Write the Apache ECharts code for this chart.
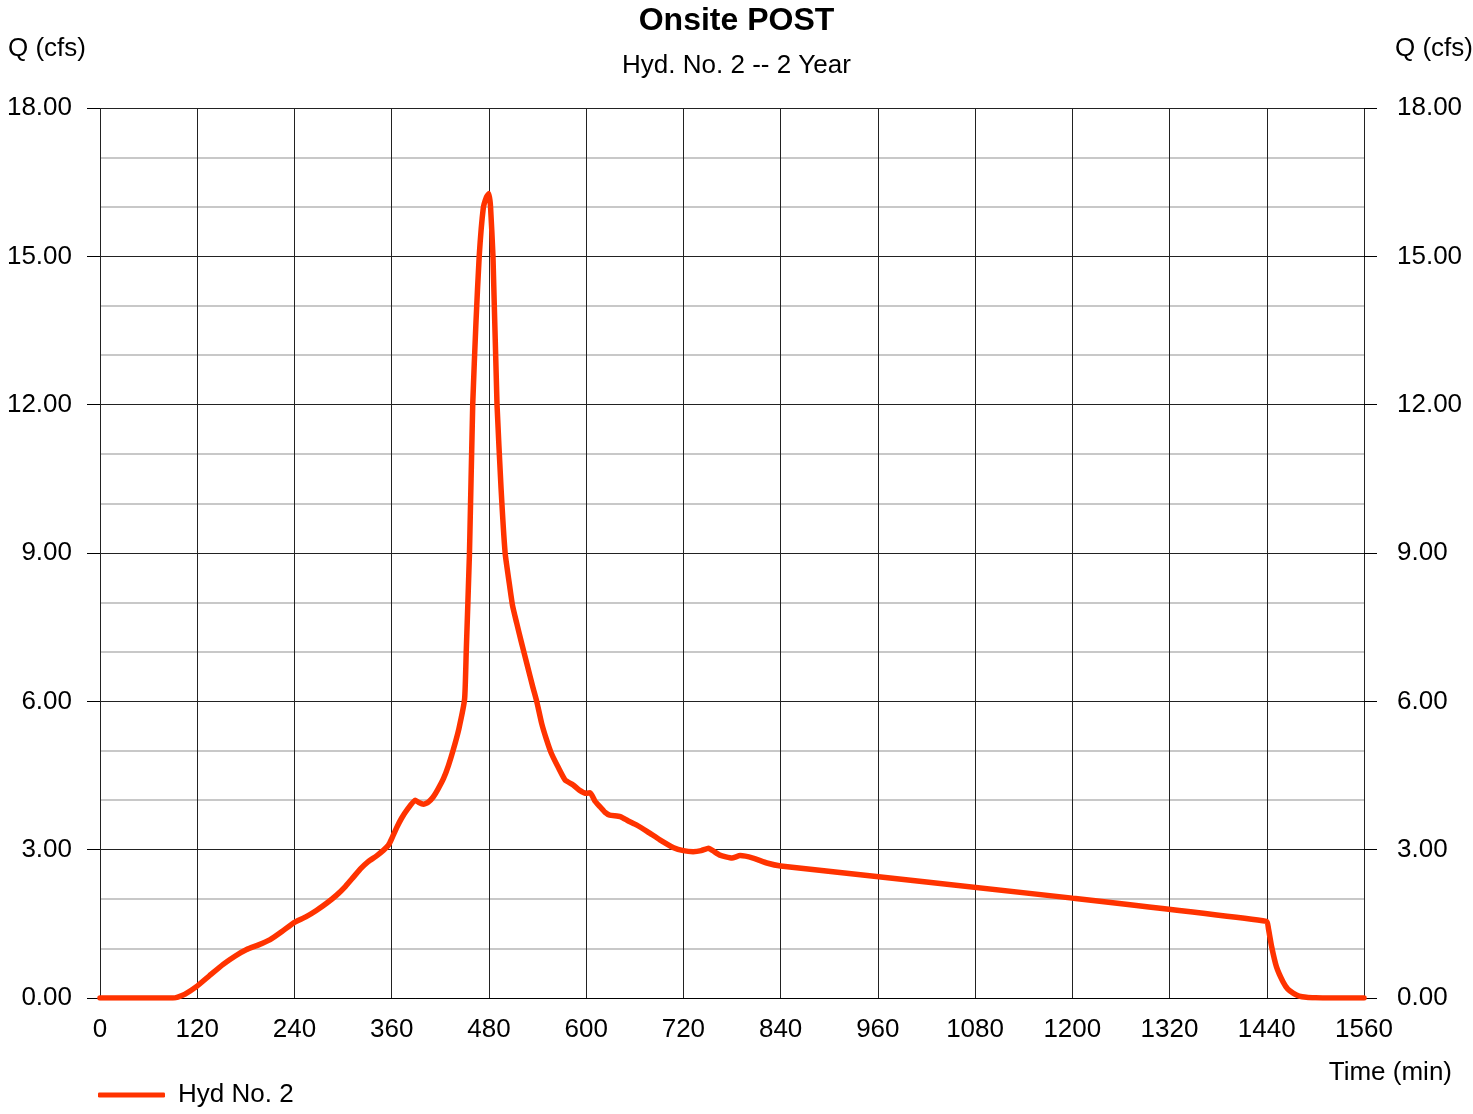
<!DOCTYPE html>
<html>
<head>
<meta charset="utf-8">
<script src="https://cdn.jsdelivr.net/npm/echarts@6/dist/echarts.min.js"></script>
<style>
  html, body { margin: 0; padding: 0; background: #fff; }
  #chart { width: 1473px; height: 1114px; }
</style>
</head>
<body>
<div id="chart"></div>
<script>
// hydrograph: time (min) and flow (cfs)
const times = [0, 90, 96, 105, 119, 135, 152, 167, 181, 195, 210, 225, 239, 254, 267, 280, 292, 303, 313, 322,
  331, 341, 350, 356, 360, 366, 372, 380, 389, 393, 399, 405, 411, 417, 424, 430, 436, 443, 450, 452,
  456, 460, 464, 468, 473, 477, 480, 482, 485, 490, 495, 500, 505, 509, 514, 520, 527, 534, 539, 545,
  551, 557, 566, 574, 584, 592, 600, 605, 611, 617, 623, 629, 642, 652, 662, 676, 691, 708, 720, 732,
  742, 751, 758, 765, 780, 790, 806, 823, 840, 1200, 1440, 1442, 1446, 1452, 1460, 1466, 1473, 1480, 1489, 1500,
  1509, 1560]
const flows = [0, 0, 0.02, 0.08, 0.23, 0.45, 0.68, 0.85, 0.98, 1.07, 1.18, 1.35, 1.52, 1.64, 1.77, 1.92, 2.08, 2.26, 2.45, 2.62,
  2.76, 2.87, 2.99, 3.09, 3.22, 3.44, 3.63, 3.83, 4.00, 3.96, 3.92, 3.96, 4.06, 4.22, 4.44, 4.70, 5.02, 5.45, 6.05, 7.0,
  9.0, 12.0, 13.66, 15.0, 15.97, 16.2, 16.27, 16.0, 15.0, 12.0, 10.3, 9.0, 8.4, 7.95, 7.6, 7.2, 6.75, 6.3, 6.0, 5.56,
  5.23, 4.95, 4.65, 4.41, 4.31, 4.2, 4.14, 4.15, 3.98, 3.87, 3.76, 3.70, 3.67, 3.58, 3.50, 3.36, 3.20, 3.04, 2.98, 2.96,
  2.98, 3.03, 2.96, 2.89, 2.83, 2.88, 2.83, 2.73, 2.67, 2.02, 1.55, 1.41, 1.04, 0.63, 0.33, 0.18, 0.095, 0.04, 0.014, 0.003,
  0, 0]
const seriesName = 'Hyd No. 2'

const font = 'Liberation Sans, Arial, sans-serif'
const red = '#ff3300'

const myChart = echarts.init(document.getElementById('chart'))

const yAxisBase = {
  type: 'value',
  min: 0,
  max: 18,
  interval: 3,
  axisLine: { show: false },
  axisTick: { show: true, length: 13, lineStyle: { color: '#000', width: 1 } },
  axisLabel: {
    color: '#000', fontFamily: font, fontSize: 26,
    formatter: v => v.toFixed(2)
  }
}

myChart.setOption({
  animation: false,
  backgroundColor: '#fff',
  title: {
    text: 'Onsite POST',
    subtext: 'Hyd. No. 2 -- 2 Year',
    left: 'center',
    top: 5,
    padding: [0, 0, 0, 0],
    itemGap: 16,
    textStyle: { color: '#000', fontFamily: font, fontSize: 32, fontWeight: 'bold' },
    subtextStyle: { color: '#000', fontFamily: font, fontSize: 26 }
  },
  grid: { left: 100, right: 109, top: 108, bottom: 116 },
  legend: {
    data: [seriesName],
    left: 98,
    top: 1082,
    padding: 0,
    icon: 'roundRect',
    itemWidth: 67,
    itemHeight: 5,
    textStyle: { color: '#000', fontFamily: font, fontSize: 26, padding: [0, 0, 0, 8] }
  },
  xAxis: {
    type: 'value',
    min: 0,
    max: 1560,
    interval: 120,
    axisLine: { show: true, lineStyle: { color: '#000', width: 1 } },
    axisTick: { show: false },
    axisLabel: { color: '#000', fontFamily: font, fontSize: 26, margin: 19, formatter: v => String(v) },
    splitLine: { show: true, lineStyle: { color: '#222', width: 1 } }
  },
  yAxis: [
    Object.assign({}, yAxisBase, {
      position: 'left',
      axisLabel: Object.assign({}, yAxisBase.axisLabel, { margin: 28 }),
      splitLine: { show: true, lineStyle: { color: '#222', width: 1 } },
      minorTick: { show: false, splitNumber: 3 },
      minorSplitLine: { show: true, lineStyle: { color: '#c8c8c8', width: 2 } }
    }),
    Object.assign({}, yAxisBase, {
      position: 'right',
      axisLabel: Object.assign({}, yAxisBase.axisLabel, { margin: 33 }),
      splitLine: { show: false }
    })
  ],
  graphic: [
    { type: 'text', left: 8, top: 36, style: { text: 'Q (cfs)', font: '26px ' + font, fill: '#000' } },
    { type: 'text', right: 0, top: 36, style: { text: 'Q (cfs)', font: '26px ' + font, fill: '#000' } },
    { type: 'text', right: 21, top: 1060, style: { text: 'Time (min)', font: '26px ' + font, fill: '#000' } }
  ],
  series: [
    {
      name: seriesName,
      type: 'line',
      data: times.map((t, i) => [t, flows[i]]),
      showSymbol: false,
      smooth: 0.15,
      lineStyle: { color: red, width: 5.5, cap: 'round', join: 'round' },
      itemStyle: { color: red },
      z: 5
    }
  ]
})
</script>
</body>
</html>
